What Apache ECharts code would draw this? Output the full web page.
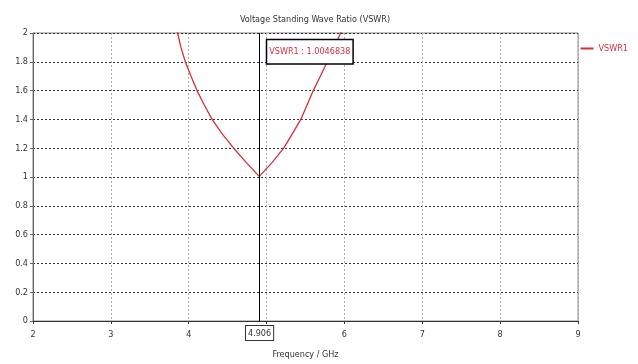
<!DOCTYPE html>
<html><head><meta charset="utf-8">
<script src="https://cdn.jsdelivr.net/npm/echarts@6/dist/echarts.min.js"></script>
<style>html,body{margin:0;padding:0;background:#fff}#c{width:638px;height:364px}</style>
</head><body><div id="c"></div>
<script>
const freqs = [3.80, 3.857, 3.90, 3.956, 4.03, 4.107, 4.20, 4.30, 4.43, 4.578, 4.74, 4.906, 5.07, 5.22, 5.33, 5.44, 5.52, 5.60, 5.69, 5.78, 5.87, 5.95, 6.01];
const vswr  = [2.10, 2.00, 1.90, 1.80, 1.70, 1.60, 1.50, 1.40, 1.30, 1.20, 1.10, 1.0046838, 1.10, 1.20, 1.30, 1.40, 1.50, 1.60, 1.70, 1.80, 1.90, 2.00, 2.06];
const markerFreq = 4.906;
const markerValue = 1.0046838;
const xTicks = [2, 3, 4, 5, 6, 7, 8, 9];
const seriesName = 'VSWR1';
const chart = echarts.init(document.getElementById('c'));
const font = '"Liberation Sans Narrow", "DejaVu Sans Condensed", sans-serif';
chart.setOption({
  animation: false,
  title: { text: 'Voltage Standing Wave Ratio (VSWR)', left: 310, textAlign: 'center', top: 10,
    textStyle: { fontFamily: font, fontSize: 9, fontWeight: 'normal', color: '#333' } },
  legend: { right: 5, top: 39, icon: 'rect', itemWidth: 13, itemHeight: 2, itemGap: 4,
    textStyle: { fontFamily: font, fontSize: 9, color: '#d0313a' }, data: [seriesName] },
  grid: { left: 33, right: 60, top: 33, bottom: 38, show: true, borderColor: '#888', borderWidth: 1 },
  xAxis: { type: 'value', min: 2, max: 9, interval: 1, name: 'Frequency / GHz', nameLocation: 'middle', nameGap: 29,
    nameTextStyle: { fontFamily: font, fontSize: 9, color: '#333' },
    axisLine: { lineStyle: { color: '#333' } }, axisTick: { show: true, length: 3, lineStyle: { color: '#333' } },
    axisLabel: { fontFamily: font, fontSize: 9, color: '#333', margin: 9,
      formatter: v => (v === 5 ? '' : String(v)) },
    splitLine: { show: true, lineStyle: { color: '#aaa', type: [2, 2] } } },
  yAxis: { type: 'value', min: 0, max: 2, interval: 0.2,
    axisLine: { show: true, lineStyle: { color: '#666' } }, axisTick: { show: true, length: 3, lineStyle: { color: '#666' } },
    axisLabel: { fontFamily: font, fontSize: 9, color: '#333', margin: 5,
      formatter: v => String(Math.round(v * 10) / 10) },
    splitLine: { show: true, lineStyle: { color: '#333', type: [2, 2] } } },
  series: [{
    name: seriesName, type: 'line', data: freqs.map((f, i) => [f, vswr[i]]),
    showSymbol: false, smooth: false, clip: true,
    lineStyle: { color: '#d0313a', width: 1.3 }, itemStyle: { color: '#d0313a' },
    markLine: { silent: true, symbol: 'none', animation: false,
      lineStyle: { color: '#000', type: 'solid', width: 1 },
      label: { show: true, position: 'start', formatter: String(markerFreq), fontFamily: font, fontSize: 9, color: '#333',
        borderColor: '#333', borderWidth: 1, padding: [3, 2, 2, 2], backgroundColor: '#fff', distance: 5 },
      data: [{ xAxis: markerFreq }] },
    markPoint: { silent: true, symbol: 'rect', symbolSize: 0,
      data: [{ coord: [markerFreq, 1.87], value: markerValue }],
      label: { show: true, position: 'right', offset: [3, 0], formatter: seriesName + ' : ' + markerValue,
        fontFamily: font, fontSize: 9, color: '#d0313a', backgroundColor: '#fff',
        borderColor: '#000', borderWidth: 1.5, padding: [7, 2, 7, 2] } }
  }]
});
</script></body></html>
